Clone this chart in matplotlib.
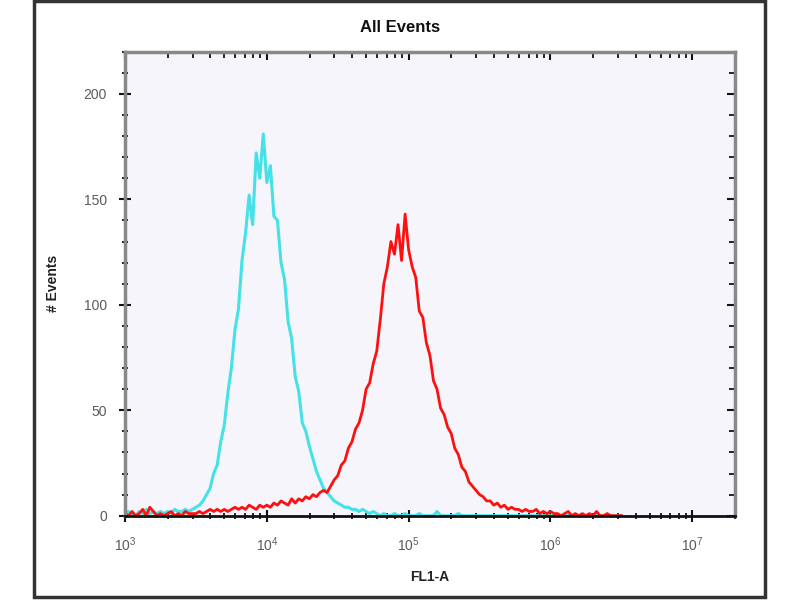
import matplotlib
matplotlib.use("Agg")
import matplotlib.pyplot as plt
import numpy as np
from matplotlib.ticker import MultipleLocator, LogLocator, NullFormatter
from matplotlib.patches import Rectangle

plt.rcParams['font.family'] = ['Liberation Sans', 'DejaVu Sans']
plt.rcParams['mathtext.fontset'] = 'custom'
plt.rcParams['mathtext.rm'] = 'Liberation Sans'

# channel axis: log10 of FL1-A, one channel every 0.025 decade from 10^3 to 10^6.5
log_channels = np.round(np.arange(3.0, 6.5001, 0.025), 3)

# counts per channel (10 channels per row)
cyan_counts = [
    1, 2, 1, 0, 2, 1, 3, 1, 2, 1,
    2, 1, 2, 1, 3, 2, 2, 3, 2, 3,
    4, 5, 7, 10, 13, 20, 24, 35, 43, 58,
    70, 88, 98, 121, 134, 152, 138, 172, 160, 181,
    158, 166, 142, 140, 120, 112, 92, 84, 66, 59,
    44, 40, 33, 27, 21, 17, 13, 11, 9, 7,
    6, 5, 4, 4, 3, 3, 2, 3, 2, 1,
    2, 1, 0, 1, 0, 0, 1, 0, 0, 1,
    0, 0, 0, 1, 0, 0, 0, 0, 2, 0,
    0, 0, 0, 0, 1, 0, 0, 0, 0, 0,
    0, 0, 0, 0, 0, 0, 0, 0, 0, 0,
    0, 0, 0, 0, 0, 0, 0, 0, 0, 0,
    0, 0, 0, 0, 0, 0, 0, 0, 0, 0,
    0, 0, 0, 0, 0, 0, 0, 0, 0, 0,
    0,
]
red_counts = [
    1, 0, 2, 0, 1, 3, 0, 4, 2, 0,
    1, 0, 1, 2, 0, 1, 0, 2, 1, 1,
    1, 2, 1, 2, 3, 2, 3, 2, 3, 2,
    3, 4, 3, 4, 3, 5, 4, 3, 5, 4,
    5, 4, 6, 5, 7, 6, 5, 8, 6, 8,
    7, 9, 8, 10, 9, 11, 12, 11, 14, 17,
    19, 24, 26, 32, 35, 41, 44, 50, 60, 63,
    72, 78, 93, 110, 118, 130, 124, 138, 121, 143,
    126, 118, 113, 97, 94, 82, 76, 64, 60, 51,
    48, 42, 39, 32, 29, 23, 21, 16, 14, 12,
    10, 9, 7, 7, 5, 6, 4, 5, 3, 4,
    3, 3, 2, 3, 2, 2, 3, 1, 2, 1,
    2, 1, 1, 0, 1, 2, 0, 1, 0, 1,
    0, 1, 0, 2, 0, 0, 1, 0, 0, 0,
    0,
]

fl1 = 10.0 ** log_channels

fig = plt.figure(figsize=(8, 6), dpi=100)
fig.patch.set_facecolor('white')
fig.patches.append(Rectangle((0.0425, 0.005), 0.914, 0.993, transform=fig.transFigure,
                             fill=False, edgecolor='#333333', linewidth=2.5))

ax = fig.add_axes([0.15625, 0.1405, 0.7625, 0.7733])
ax.set_facecolor('#f5f5fb')

ax.plot(fl1, cyan_counts, color='#44e2e8', linewidth=2.2)
ax.plot(fl1, red_counts, color='#ff1010', linewidth=2.0)

ax.set_xscale('log')
ax.set_xlim(1e3, 2e7)
ax.set_ylim(0, 220)

ax.yaxis.set_major_locator(MultipleLocator(50))
ax.yaxis.set_minor_locator(MultipleLocator(10))
ax.xaxis.set_major_locator(LogLocator(base=10))
ax.xaxis.set_minor_locator(LogLocator(base=10, subs=np.arange(2, 10)))
ax.xaxis.set_minor_formatter(NullFormatter())

# left / bottom: ticks cross the axis line
ax.tick_params(axis='both', which='major', direction='inout', length=8, width=1.5,
               color='#111111', labelcolor='#5a5a5a', labelsize=10)
ax.tick_params(axis='both', which='minor', direction='inout', length=5, width=1.3,
               color='#111111')
ax.tick_params(axis='y', which='major', pad=9)
ax.tick_params(axis='x', which='major', pad=10)

# top / right: ticks point inward only
top = ax.secondary_xaxis('top')
top.xaxis.set_major_locator(LogLocator(base=10))
top.xaxis.set_minor_locator(LogLocator(base=10, subs=np.arange(2, 10)))
top.tick_params(which='major', direction='in', length=6, width=1.5, color='#111111',
                labeltop=False)
top.tick_params(which='minor', direction='in', length=4, width=1.3, color='#111111')
top.spines['top'].set_visible(False)

right = ax.secondary_yaxis('right')
right.yaxis.set_major_locator(MultipleLocator(50))
right.yaxis.set_minor_locator(MultipleLocator(10))
right.tick_params(which='major', direction='in', length=6, width=1.5, color='#111111',
                  labelright=False)
right.tick_params(which='minor', direction='in', length=4, width=1.3, color='#111111')
right.spines['right'].set_visible(False)

for side in ['left', 'top', 'right']:
    ax.spines[side].set_color('#888888')
    ax.spines[side].set_linewidth(2.5)
ax.spines['bottom'].set_color('#111111')
ax.spines['bottom'].set_linewidth(2)

ax.set_xlabel('FL1-A', fontsize=10, fontweight='bold', color='#222222')
ax.xaxis.set_label_coords(0.5, -0.118)
ax.set_ylabel('# Events', fontsize=10, fontweight='bold', color='#222222')
ax.yaxis.set_label_coords(-0.107, 0.5)

fig.text(0.5, 0.955, 'All Events', ha='center', va='center', fontsize=12,
         fontweight='bold', color='#111111')

plt.savefig('out.png', dpi=100)
